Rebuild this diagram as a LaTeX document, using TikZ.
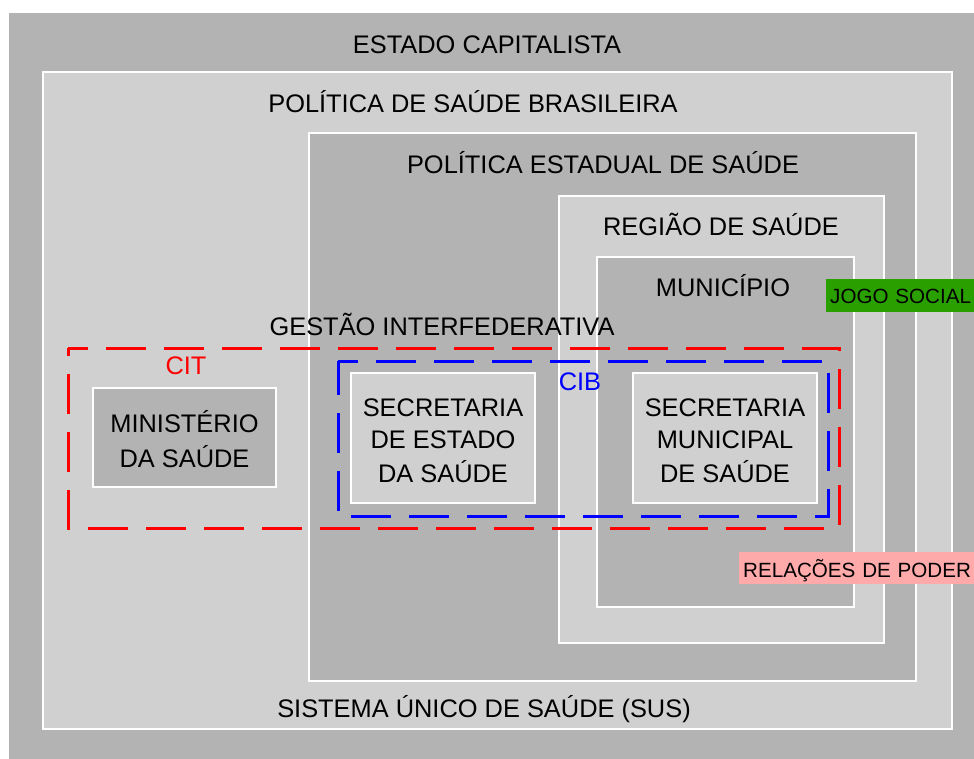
\documentclass[tikz,border=0pt]{standalone}
\usepackage{fontspec}
\setmainfont{Liberation Sans}
\definecolor{gdark}{RGB}{179,179,179}
\definecolor{glight}{RGB}{208,208,208}
\definecolor{jgreen}{RGB}{42,160,0}
\definecolor{rpink}{RGB}{255,170,170}
\begin{document}
\begin{tikzpicture}[x=1pt,y=-1pt,
  lvl/.style={draw=white,line width=2pt},
  lbl/.style={font=\fontsize{25.4}{30}\selectfont,anchor=base,inner sep=0pt},
  tagbox/.style={font=\fontsize{20.6}{25}\selectfont,anchor=base west,inner ysep=0pt,inner xsep=4pt,minimum width=260pt,text width=252pt,align=left},
  dashbox/.style={line width=3pt,dash pattern=on 40pt off 18pt,dash phase=20pt}
]
\useasboundingbox (0,0) rectangle (974,758);
\clip (0,0) rectangle (974,758);
\fill[white] (0,0) rectangle (974,758);
\fill[gdark] (9,13) rectangle (990,770);
\draw[lvl,fill=glight] (43,72) rectangle (952,729);
\draw[lvl,fill=gdark] (309,133) rectangle (916,681);
\draw[lvl,fill=glight] (559,196) rectangle (884,643);
\draw[lvl,fill=gdark] (597,257) rectangle (854,607);

\draw[lvl,fill=gdark] (93,388) rectangle (276,487);
\draw[lvl,fill=glight] (351,373) rectangle (535,503);
\draw[lvl,fill=glight] (633,373) rectangle (817,503);

\draw[dashbox,red] (68,348) -- (839,348) -- (839,528) -- (68,528) -- cycle;
\draw[dashbox,blue] (338,361) -- (828,361) -- (828,516) -- (338,516) -- cycle;

\node[lbl] (estado) at (487,53) {ESTADO CAPITALISTA};
\node[lbl] (psb) at (473,112) {POLÍTICA DE SAÚDE BRASILEIRA};
\node[lbl] (pes) at (603,173) {POLÍTICA ESTADUAL DE SAÚDE};
\node[lbl] (regiao) at (721,235) {REGIÃO DE SAÚDE};
\node[lbl] (municipio) at (723,296) {MUNICÍPIO};
\node[lbl] (gestao) at (442,335) {GESTÃO INTERFEDERATIVA};
\node[lbl,text=red] (cit) at (186,374) {CIT};
\node[lbl,text=blue] (cib) at (580,390) {CIB};
\node[lbl] (ms1) at (184.5,432) {MINISTÉRIO};
\node[lbl] (ms2) at (184.5,467) {DA SAÚDE};
\node[lbl] (se1) at (443,416) {SECRETARIA};
\node[lbl] (se2) at (443,448) {DE ESTADO};
\node[lbl] (se3) at (443,482) {DA SAÚDE};
\node[lbl] (sm1) at (725,416) {SECRETARIA};
\node[lbl] (sm2) at (725,448) {MUNICIPAL};
\node[lbl] (sm3) at (725,482) {DE SAÚDE};
\node[lbl] (sus) at (484,717) {SISTEMA ÚNICO DE SAÚDE (SUS)};

\node[tagbox,fill=jgreen,text height=24pt,text depth=9pt] (jogo) at (826,303) {JOGO SOCIAL};
\node[tagbox,fill=rpink,text height=25pt,text depth=7pt] (poder) at (739,577) {RELAÇÕES DE PODER};
\end{tikzpicture}
\end{document}
